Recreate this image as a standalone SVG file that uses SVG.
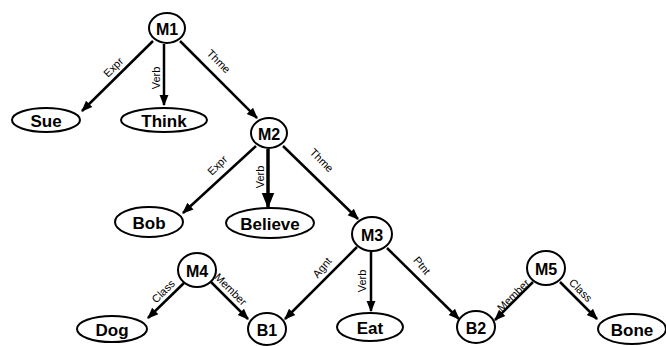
<svg xmlns="http://www.w3.org/2000/svg" width="666" height="346" viewBox="0 0 666 346">
  <style>
    .node ellipse { fill: #fff; stroke: #000; stroke-width: 2; }
    .node text { font-family: "Liberation Sans", Arial, sans-serif; font-weight: bold; font-size: 17px; text-anchor: middle; dominant-baseline: central; fill: #000; }
    .node.m text { font-size: 16px; }
    .edges line { stroke: #000; stroke-width: 2.5; marker-end: url(#arrow); }
    .edges text { font-family: "Liberation Sans", Arial, sans-serif; font-size: 11px; text-anchor: middle; fill: #000; }
  </style>
  <defs>
    <marker id="arrow" viewBox="0 0 10 10" refX="9" refY="5" markerWidth="4.5" markerHeight="4.5" orient="auto" markerUnits="strokeWidth">
      <path d="M0,1 L10,5 L0,9 Z" fill="#000"/>
    </marker>
  </defs>
  <rect width="666" height="346" fill="#fff"/>

  <!-- connectors -->
  <g id="edges" class="edges">
    <line x1="153" y1="41" x2="82" y2="111"/>
    <text transform="translate(116,70) rotate(-45)">Expr</text>
    <line x1="164" y1="44" x2="164" y2="105"/>
    <text transform="translate(160,78) rotate(-90)">Verb</text>
    <line x1="180" y1="41" x2="257" y2="118"/>
    <text transform="translate(216,64) rotate(45)">Thme</text>

    <line x1="256" y1="146" x2="183" y2="213"/>
    <text transform="translate(220,168) rotate(-45)">Expr</text>
    <line x1="268" y1="149" x2="268" y2="207" style="stroke-width:3.5"/>
    <text transform="translate(264,177) rotate(-90)">Verb</text>
    <line x1="283" y1="146" x2="358" y2="219"/>
    <text transform="translate(319,163) rotate(45)">Thme</text>

    <line x1="357" y1="247" x2="285" y2="319"/>
    <text transform="translate(325,270) rotate(-50)">Agnt</text>
    <line x1="371" y1="252" x2="371" y2="311"/>
    <text transform="translate(366,281) rotate(-90)">Verb</text>
    <line x1="387" y1="248" x2="459" y2="319"/>
    <text transform="translate(419,268) rotate(50)">Ptnt</text>

    <line x1="185" y1="282" x2="148" y2="318"/>
    <text transform="translate(166,294) rotate(-45)">Class</text>
    <line x1="211" y1="282" x2="248" y2="319"/>
    <text transform="translate(228,292) rotate(45)">Member</text>

    <line x1="533" y1="282" x2="495" y2="320"/>
    <text transform="translate(516,298) rotate(-45)">Member</text>
    <line x1="560" y1="282" x2="597" y2="319"/>
    <text transform="translate(578,293) rotate(45)">Class</text>
  </g>

  <!-- nodes -->
  <g id="M1" class="node m"><ellipse cx="167" cy="28" rx="18" ry="15"/><text x="167" y="29">M1</text></g>
  <g id="Sue" class="node"><ellipse cx="46" cy="120" rx="34" ry="12"/><text x="46" y="121">Sue</text></g>
  <g id="Think" class="node"><ellipse cx="164" cy="120" rx="43" ry="12"/><text x="164" y="121">Think</text></g>
  <g id="M2" class="node m"><ellipse cx="269" cy="133" rx="18" ry="15"/><text x="269" y="134">M2</text></g>
  <g id="Bob" class="node"><ellipse cx="149" cy="222" rx="34" ry="15"/><text x="149" y="223">Bob</text></g>
  <g id="Believe" class="node"><ellipse cx="270" cy="223" rx="44" ry="15"/><text x="270" y="224">Believe</text></g>
  <g id="M3" class="node m"><ellipse cx="372" cy="234" rx="20" ry="17"/><text x="372" y="235">M3</text></g>
  <g id="M4" class="node m"><ellipse cx="197" cy="270" rx="19" ry="17"/><text x="197" y="271">M4</text></g>
  <g id="Dog" class="node"><ellipse cx="112" cy="329" rx="35" ry="13"/><text x="112" y="330">Dog</text></g>
  <g id="B1" class="node m"><ellipse cx="267" cy="329" rx="19" ry="16"/><text x="267" y="330">B1</text></g>
  <g id="Eat" class="node"><ellipse cx="370" cy="327" rx="33" ry="14"/><text x="370" y="328">Eat</text></g>
  <g id="B2" class="node m"><ellipse cx="476" cy="327" rx="19" ry="16"/><text x="476" y="328">B2</text></g>
  <g id="M5" class="node m"><ellipse cx="546" cy="268" rx="19" ry="17"/><text x="546" y="269">M5</text></g>
  <g id="Bone" class="node"><ellipse cx="632" cy="329" rx="34" ry="15"/><text x="632" y="330">Bone</text></g>
</svg>
